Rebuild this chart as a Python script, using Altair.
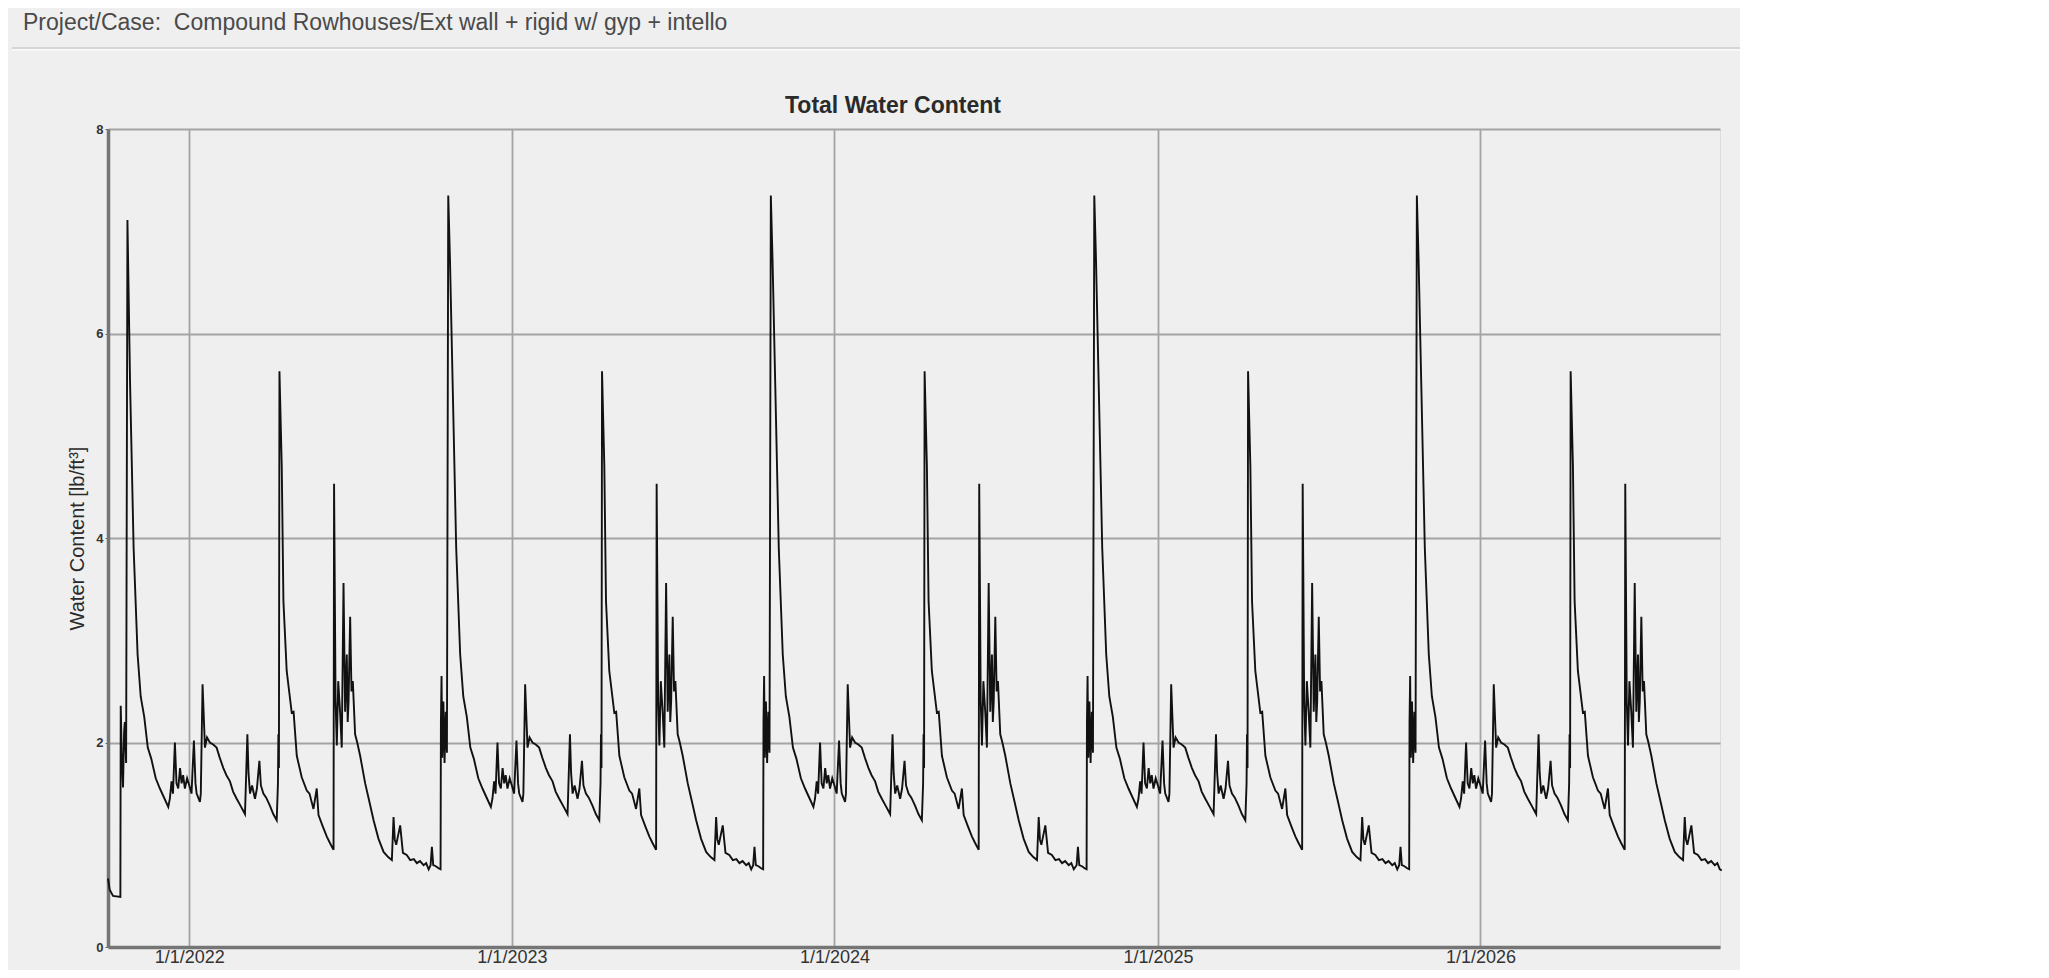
import altair as alt
import pandas as pd

# ---- data ----
YEARS = [2021, 2022, 2023, 2024, 2025]          # each cycle starts on Oct 1 of these years
TICK_YEARS = [2022, 2023, 2024, 2025, 2026]     # x tick labels at 1/1 of these years

# one annual cycle (days after Oct 1, total water content lb/ft3) – identical every year
CYCLE_DAY = [0, 1.5, 3, 6, 9, 11.3, 11.7, 12.4, 13.2, 14.5, 15.8, 17.2, 18.5, 20.0,
             22.0, 25.0, 29.0, 33.5, 37, 41, 45, 49, 54, 58.7, 64, 68.2, 70, 71.9, 73.5,
             75.7, 77.5, 79.5, 81.5, 83.3, 85, 87, 89.5, 92, 94.5, 97.2, 99, 100.3, 104,
             105, 107, 109.7, 112, 115.3, 119, 122.9, 126.5, 130.5, 134, 138, 141.5,
             145.6, 150, 155, 157.7, 159, 160.7, 163, 166.3, 168.5, 171.3, 173, 175.8,
             179, 183.3, 187, 190.9, 192.3, 192.8, 193.4, 194.0, 196.6, 198.5, 202.2,
             207.9, 210, 213.6, 219.2, 224.9, 228, 232.5, 236.2, 238.2, 243, 247.6, 251,
             255.2, 255.8, 257.5, 258.9, 260.5, 262.6, 264.5, 266.5, 268.3, 270.2, 271.2,
             272.2, 274, 275.5, 277, 279.6, 282, 285.3, 291, 295, 300.5, 306, 311.8, 317,
             321.2, 323.1, 324.5, 326.1, 328, 330.6, 333.7, 338, 342, 346, 349.5, 353,
             357.1, 360, 362.8]
CYCLE_VAL = [0.80, 0.98, 0.80, 0.79, 0.77, 0.76, 2.20, 2.65, 1.85, 2.40, 1.80, 2.30, 1.90, 7.35,
             6.70, 5.50, 3.90, 2.86, 2.45, 2.25, 1.95, 1.84, 1.65, 1.55, 1.45, 1.37, 1.45, 1.62, 1.50,
             2.00, 1.60, 1.55, 1.75, 1.60, 1.68, 1.55, 1.65, 1.58, 1.50, 2.02, 1.60, 1.50, 1.42,
             1.50, 2.57, 1.95, 2.05, 2.00, 1.98, 1.95, 1.85, 1.75, 1.68, 1.62, 1.52,
             1.45, 1.38, 1.30, 2.08, 1.70, 1.50, 1.58, 1.45, 1.55, 1.82, 1.58, 1.50,
             1.46, 1.38, 1.30, 1.24, 1.60, 2.08, 1.75, 5.63, 4.70, 3.38, 2.70,
             2.29, 2.30, 1.87, 1.66, 1.53, 1.50, 1.35, 1.55, 1.29, 1.18, 1.08, 1.02,
             0.95, 4.53, 2.40, 1.97, 2.60, 2.30, 1.95, 3.56, 2.30, 2.86, 2.20,
             2.40, 3.23, 2.50, 2.60, 2.08, 2.00, 1.87, 1.60, 1.45, 1.24, 1.06, 0.93, 0.88,
             0.85, 1.27, 1.05, 1.00, 1.08, 1.19, 0.92, 0.90, 0.85, 0.86, 0.82, 0.84,
             0.80, 0.82, 0.76]

# the very first weeks of the simulation (Oct 2021) differ
FIRST_DAY = [0, 1.9, 5.7, 14.0, 14.4, 15.5, 17.0, 18.2, 19.0, 20.5, 22.0]
FIRST_VAL = [0.67, 0.56, 0.50, 0.49, 2.36, 1.90, 1.56, 2.10, 2.20, 1.80, 7.11]
LAST_VAL = 0.75   # value at the right edge (Oct 1 2026)

HEADER = "Project/Case:\u00a0\u00a0Compound Rowhouses/Ext wall + rigid w/ gyp + intello"
TITLE = "Total Water Content"
Y_TITLE = "Water Content [lb/ft³]"

# ---- build table ----
rows = []
for y in YEARS:
    base = pd.Timestamp(year=y, month=10, day=1)
    if y == YEARS[0]:
        pts = list(zip(FIRST_DAY, FIRST_VAL)) + [(d, v) for d, v in zip(CYCLE_DAY, CYCLE_VAL) if d >= 24]
    else:
        pts = list(zip(CYCLE_DAY, CYCLE_VAL))
    for d, v in pts:
        rows.append({"date": (base + pd.Timedelta(days=d)).strftime("%Y-%m-%dT%H:%M:%S"), "wc": v})
rows.append({"date": pd.Timestamp(year=YEARS[-1] + 1, month=10, day=1).strftime("%Y-%m-%dT%H:%M:%S"),
             "wc": LAST_VAL})
df = pd.DataFrame(rows)

FONT = "Liberation Sans"

x_enc = alt.X(
    "date:T",
    scale=alt.Scale(domain=[alt.DateTime(year=YEARS[0], month=10, date=1),
                            alt.DateTime(year=YEARS[-1] + 1, month=9, date=29)]),
    axis=alt.Axis(values=[alt.DateTime(year=y, month=1, date=1) for y in TICK_YEARS],
                  format="%-m/%-d/%Y", title=None, grid=True, gridColor="#a4a4a4", gridWidth=1.8,
                  domainColor="#757575", domainWidth=3.5, tickSize=0, labelPadding=1,
                  labelFontSize=18, labelColor="#333333", labelFont=FONT),
)
y_enc = alt.Y(
    "wc:Q",
    scale=alt.Scale(domain=[0, 8], nice=False),
    axis=alt.Axis(values=[0, 2, 4, 6, 8], title=Y_TITLE, grid=True, gridColor="#a4a4a4",
                  gridWidth=1.8, domainColor="#757575", domainWidth=3.5, tickSize=3,
                  tickColor="#666666", labelPadding=2, labelFontSize=13, labelFontWeight="bold",
                  labelColor="#333333", labelFont=FONT, titleFont=FONT, titleFontSize=20,
                  titleFontWeight="normal", titleColor="#2a2a2a", titleAngle=270,
                  titleX=-31, titleY=409, titleAlign="center", titleBaseline="middle"),
)

line = alt.Chart(df).mark_line(color="#111111", strokeWidth=1.9, interpolate="linear").encode(
    x=x_enc, y=y_enc)

header = alt.Chart(pd.DataFrame({"t": [HEADER]})).mark_text(
    align="left", baseline="alphabetic", font=FONT, fontSize=23, color="#4a4a4a"
).encode(text="t:N", x=alt.value(-85), y=alt.value(-99))

sep = alt.Chart(pd.DataFrame({"a": [0]})).mark_rule(color="#d6d6d6", strokeWidth=2).encode(
    x=alt.value(-96), x2=alt.value(1632), y=alt.value(-81))
sep2 = alt.Chart(pd.DataFrame({"a": [0]})).mark_rule(color="#fafafa", strokeWidth=1.5).encode(
    x=alt.value(-96), x2=alt.value(1632), y=alt.value(-79))

title = alt.Chart(pd.DataFrame({"t": [TITLE]})).mark_text(
    align="center", baseline="alphabetic", font=FONT, fontSize=23, fontWeight="bold",
    color="#2a2a2a"
).encode(text="t:N", x=alt.value(785), y=alt.value(-16))

chart = alt.layer(sep, sep2, header, title, line).properties(
    width=1612, height=818,
    autosize=alt.AutoSizeParams(type="none"),
    padding={"left": 100, "top": 121, "right": 20, "bottom": 23},
    background="#efefef",
).configure_view(stroke="#a8a8a8", strokeWidth=3, fill="#efefef"
).configure(font=FONT)

chart.save("out.html", embed_options={"renderer": "svg", "actions": False})
